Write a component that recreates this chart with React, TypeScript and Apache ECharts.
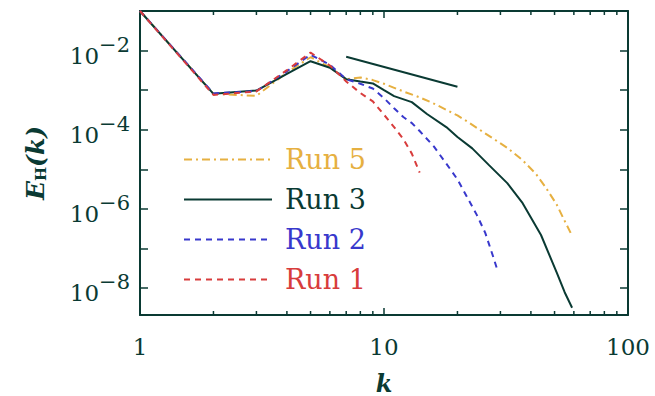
import React, { useEffect, useRef } from "react";
import * as echarts from "echarts";

// ---- data ----
const run1K = [1, 2, 3, 4, 5, 6, 7, 8, 9, 10, 11, 12, 13, 14];
const run1E = [1e-1, 7.6e-4, 9.3e-4, 3.2e-3, 8.9e-3, 4.2e-3, 1.66e-3, 8.5e-4, 5.2e-4, 2.4e-4, 1.17e-4, 5.8e-5, 2.5e-5, 8.3e-6];

const run2K = [1, 2, 3, 4, 5, 6, 7, 8, 9, 10, 11, 12, 13, 14, 16, 18, 20, 22, 24, 26, 28, 29];
const run2E = [1e-1, 8.3e-4, 9.5e-4, 3.0e-3, 7.9e-3, 4.4e-3, 1.9e-3, 1.45e-3, 1.1e-3, 6.3e-4, 3.5e-4, 2.1e-4, 1.48e-4, 9.3e-5, 3.8e-5, 1.4e-5, 5.6e-6, 1.9e-6, 7.1e-7, 2.5e-7, 6.3e-8, 3.2e-8];

const run3K = [1, 2, 3, 4, 5, 6, 7, 8, 9, 10, 11, 13, 15, 18, 20, 23, 27, 32, 37, 44, 51, 55, 59];
const run3E = [1e-1, 8.1e-4, 9.8e-4, 2.6e-3, 5.4e-3, 3.7e-3, 1.9e-3, 1.66e-3, 1.48e-3, 1.0e-3, 7.1e-4, 5.0e-4, 2.5e-4, 1.17e-4, 6.6e-5, 3.4e-5, 1.26e-5, 4.5e-6, 1.4e-6, 2.2e-7, 2.5e-8, 7.9e-9, 3.2e-9];

const run5K = [1, 2, 3, 4, 5, 6, 7, 8, 9, 10, 12, 14, 16, 18, 20, 22, 25, 28, 32, 37, 42, 46, 51, 54, 58, 59];
const run5E = [1e-1, 8.1e-4, 7.2e-4, 2.8e-3, 6.8e-3, 3.8e-3, 1.9e-3, 2.1e-3, 1.8e-3, 1.45e-3, 9.3e-4, 6.6e-4, 4.6e-4, 3.2e-4, 2.3e-4, 1.6e-4, 9.5e-5, 6.0e-5, 3.5e-5, 1.7e-5, 7.6e-6, 3.5e-6, 1.3e-6, 6.3e-7, 2.6e-7, 2.0e-7];

const refK = [7, 20];
const refE = [7.0e-3, 1.22e-3];

const minorTicksK = [2, 3, 4, 5, 6, 7, 8, 9, 20, 30, 40, 50, 60, 70, 80, 90];

const X_MIN = 1;
const X_MAX = 100;
const Y_MIN = 2.1e-9;
const Y_MAX = 1e-1;

const C_DARK = "#0a3a33";
const C_ORANGE = "#e6b041";
const C_BLUE = "#3838cc";
const C_RED = "#d83c3c";

const zip = (ks: number[], es: number[]) => ks.map((k, i) => [k, es[i]]);

const FONT = "DejaVu Serif";

export default function App() {
  const ref = useRef<HTMLDivElement>(null);
  useEffect(() => {
    if (!ref.current) return;
    const chart = echarts.init(ref.current, null, { renderer: "svg" });
    const axisLine = { show: true, lineStyle: { color: C_DARK, width: 2 } };
    const yLabelFmt = (v: number) => {
      const e = Math.round(Math.log10(v));
      if (Math.abs(Math.log10(v) - e) > 0.01) return "";
      if (e % 2 !== 0) return "";
      return "{b|10}{s|\u2212" + Math.abs(e) + "}";
    };
    chart.setOption({
      animation: false,
      backgroundColor: "#ffffff",
      grid: { left: 140, right: 27, top: 11, bottom: 81, containLabel: false, outerBoundsMode: "none" },
      legend: {
        orient: "vertical",
        left: 183,
        top: 146,
        padding: 0,
        itemWidth: 88,
        itemHeight: 14,
        itemGap: 13,
        selectedMode: false,
        itemStyle: { opacity: 0 },
        textStyle: { fontFamily: FONT, fontSize: 27, lineHeight: 26, padding: [0, 0, 0, 8] },
        data: [
          { name: "Run 5", textStyle: { color: C_ORANGE } },
          { name: "Run 3", textStyle: { color: C_DARK } },
          { name: "Run 2", textStyle: { color: C_BLUE } },
          { name: "Run 1", textStyle: { color: C_RED } },
        ],
      },
      xAxis: [
        {
          type: "log",
          min: X_MIN,
          max: X_MAX,
          logBase: 10,
          position: "bottom",
          axisLine,
          axisTick: { inside: true, length: 7, lineStyle: { color: C_DARK, width: 1.5 } },
          splitLine: { show: false },
          axisLabel: { color: C_DARK, fontFamily: FONT, fontSize: 23, margin: 20 },
          name: "k",
          nameLocation: "middle",
          nameGap: 56,
          nameTextStyle: { color: C_DARK, fontFamily: FONT, fontSize: 24, fontStyle: "italic", fontWeight: "bold" },
        },
        {
          type: "log",
          min: X_MIN,
          max: X_MAX,
          logBase: 10,
          position: "top",
          axisLine,
          axisTick: { inside: true, length: 7, lineStyle: { color: C_DARK, width: 1.5 } },
          splitLine: { show: false },
          axisLabel: { show: false },
        },
      ],
      yAxis: [
        {
          type: "log",
          min: Y_MIN,
          max: Y_MAX,
          logBase: 10,
          position: "left",
          axisLine,
          axisTick: { inside: true, length: 8, lineStyle: { color: C_DARK, width: 1.5 } },
          splitLine: { show: false },
          axisLabel: {
            margin: 10,
            formatter: yLabelFmt,
            rich: {
              b: { fontFamily: FONT, fontSize: 23, color: C_DARK, lineHeight: 33, verticalAlign: "bottom" },
              s: { fontFamily: FONT, fontSize: 21, color: C_DARK, lineHeight: 22, verticalAlign: "top" },
            },
          },
          name: "{e|E}{s|H}{e|(k)}",
          nameLocation: "middle",
          nameGap: 92,
          nameTextStyle: {
            color: C_DARK,
            rich: {
              e: { fontFamily: FONT, fontSize: 25, fontStyle: "italic", fontWeight: "bold", color: C_DARK },
              s: { fontFamily: FONT, fontSize: 15, fontWeight: "bold", color: C_DARK, verticalAlign: "bottom", lineHeight: 24 },
            },
          },
        },
        {
          type: "log",
          min: Y_MIN,
          max: Y_MAX,
          logBase: 10,
          position: "right",
          axisLine,
          axisTick: { inside: true, length: 8, lineStyle: { color: C_DARK, width: 1.5 } },
          splitLine: { show: false },
          axisLabel: { show: false },
        },
      ],
      series: [
        {
          name: "minor-ticks",
          type: "custom",
          xAxisIndex: 0,
          yAxisIndex: 0,
          clip: false,
          silent: true,
          data: minorTicksK.map((k) => [k, Y_MIN]),
          renderItem: (_p: any, api: any) => {
            const k = api.value(0);
            const b = api.coord([k, Y_MIN]);
            const t = api.coord([k, Y_MAX]);
            const st = { stroke: C_DARK, lineWidth: 1.5 };
            return {
              type: "group",
              children: [
                { type: "line", shape: { x1: b[0], y1: b[1], x2: b[0], y2: b[1] - 4 }, style: st },
                { type: "line", shape: { x1: t[0], y1: t[1], x2: t[0], y2: t[1] + 4 }, style: st },
              ],
            };
          },
        },
        {
          name: "Run 5",
          type: "line",
          showSymbol: false,
          symbol: "none",
          data: zip(run5K, run5E),
          itemStyle: { color: C_ORANGE },
          lineStyle: { color: C_ORANGE, width: 2, type: [8, 4, 2, 4] },
        },
        {
          name: "Run 3",
          type: "line",
          showSymbol: false,
          symbol: "none",
          data: zip(run3K, run3E),
          itemStyle: { color: C_DARK },
          lineStyle: { color: C_DARK, width: 2, type: "solid" },
        },
        {
          name: "Run 2",
          type: "line",
          showSymbol: false,
          symbol: "none",
          data: zip(run2K, run2E),
          itemStyle: { color: C_BLUE },
          lineStyle: { color: C_BLUE, width: 2, type: [6, 5] },
        },
        {
          name: "Run 1",
          type: "line",
          showSymbol: false,
          symbol: "none",
          data: zip(run1K, run1E),
          itemStyle: { color: C_RED },
          lineStyle: { color: C_RED, width: 2, type: [6, 5] },
        },
        {
          name: "k^-5/3",
          type: "line",
          showSymbol: false,
          symbol: "none",
          data: zip(refK, refE),
          lineStyle: { color: C_DARK, width: 2 },
        },
      ],
    });
    return () => chart.dispose();
  }, []);
  return (
    <div
      ref={ref}
      style={{ position: "absolute", left: 0, top: 0, width: 655, height: 396, background: "#fff" }}
    />
  );
}
